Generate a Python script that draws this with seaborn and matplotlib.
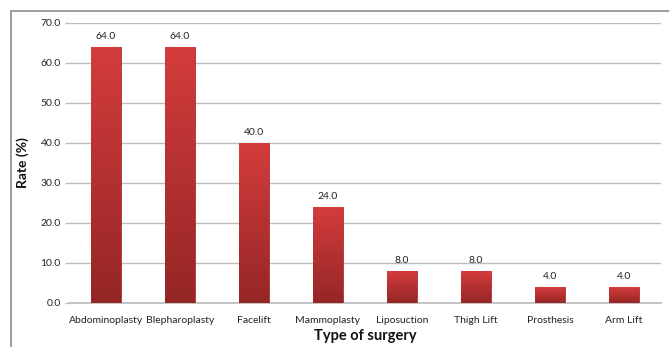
import numpy as np
import pandas as pd
import matplotlib
matplotlib.use("Agg")
import matplotlib.pyplot as plt
from matplotlib.colors import LinearSegmentedColormap
from matplotlib.patches import Rectangle
import seaborn as sns

categories = ["Abdominoplasty", "Blepharoplasty", "Facelift", "Mammoplasty",
              "Liposuction", "Thigh Lift", "Prosthesis", "Arm Lift"]
rates = [64.0, 64.0, 40.0, 24.0, 8.0, 8.0, 4.0, 4.0]
y_ticks = [0, 10, 20, 30, 40, 50, 60, 70]

sns.set_theme(style="white")
plt.rcParams["font.family"] = ["Lato", "DejaVu Sans"]

df = pd.DataFrame({"surgery": categories, "rate": rates})

fig = plt.figure(figsize=(6.69, 3.47), dpi=100)
ax = fig.add_axes([69 / 669, 1 - 303 / 347, (661 - 69) / 669, (303 - 23) / 347])

sns.barplot(data=df, x="surgery", y="rate", color="#c03333", width=0.4,
            ax=ax, zorder=3, saturation=1)

ax.set_ylim(0, 70)
ax.set_xlim(-0.5, len(categories) - 0.5)
ax.set_yticks(y_ticks)
ax.set_yticklabels([f"{v:.1f}" for v in y_ticks])
ax.yaxis.grid(True, color="#bdbdbd", linewidth=1.0, zorder=0)
ax.xaxis.grid(False)
for side in ["top", "right", "left"]:
    ax.spines[side].set_visible(False)
ax.spines["bottom"].set_color("#bdbdbd")
ax.tick_params(axis="y", which="both", left=True, length=3, width=1,
               color="#bdbdbd", labelsize=7.5, pad=3, labelcolor="#222222")
ax.tick_params(axis="x", bottom=False, labelsize=7.5, pad=3.5, labelcolor="#222222")

# vertical red gradient inside each bar
grad = LinearSegmentedColormap.from_list("bar", ["#952626", "#d43c3c"])
gimg = np.linspace(0, 1, 256).reshape(-1, 1)
for patch in ax.patches:
    x0, y0 = patch.get_x(), patch.get_y()
    w, h = patch.get_width(), patch.get_height()
    im = ax.imshow(gimg, cmap=grad, extent=[x0, x0 + w, y0, y0 + h],
                   origin="lower", aspect="auto", zorder=4)
    im.set_clip_path(patch)
    patch.set_edgecolor("#b02e2e")
    patch.set_linewidth(0.6)

for i, v in enumerate(rates):
    ax.text(i, v + 1.5, f"{v:.1f}", ha="center", va="bottom",
            fontsize=7.5, color="#222222", zorder=5)

ax.set_xlabel("Type of surgery", fontsize=10.5, fontweight="bold",
              color="#111111", labelpad=3)
ax.set_ylabel("Rate (%)", fontsize=10, fontweight="bold",
              color="#111111", labelpad=8)

# outer chart frame
fig.patches.append(Rectangle((11 / 669, -0.2), 1.2, 1.2 - 11 / 347,
                             transform=fig.transFigure, fill=False,
                             edgecolor="#8c8c8c", linewidth=1.2, zorder=0))

fig.savefig("out.png", dpi=100)
